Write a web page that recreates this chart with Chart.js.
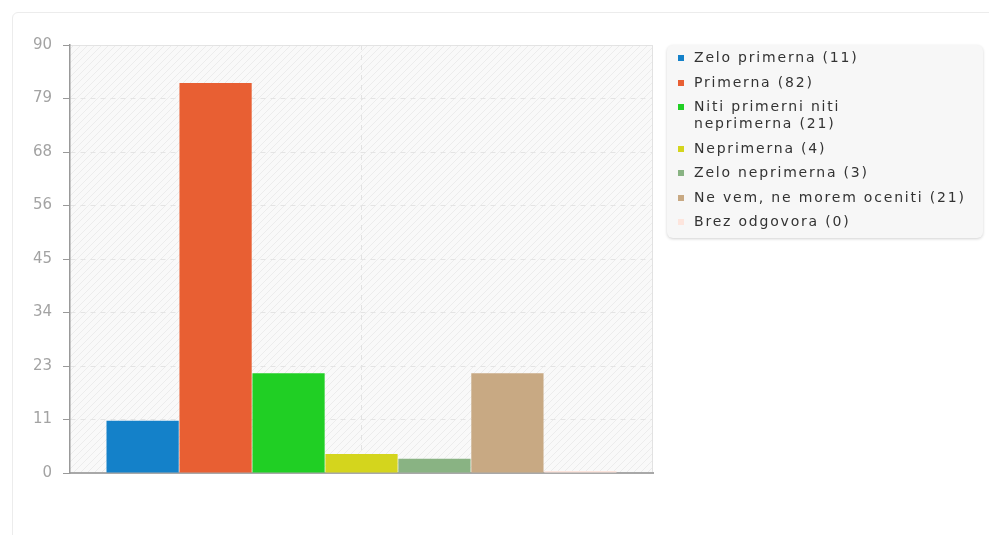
<!DOCTYPE html>
<html>
<head>
<meta charset="utf-8">
<script src="https://cdn.jsdelivr.net/npm/chart.js@4/dist/chart.umd.min.js"></script>
<style>
  body { margin: 0; background: #fff; font-family: "DejaVu Sans", sans-serif; }
  #card { position: absolute; left: 12px; top: 12px; width: 1000px; height: 560px;
          border: 1px solid #ececec; border-radius: 6px; }
  #wrap { position: absolute; left: 0; top: 0; width: 989px; height: 535px; }
  #legend { position: absolute; left: 667px; top: 45px; width: 316px; height: 193px;
            box-sizing: border-box; padding: 4px 0 0 11px; background: #f7f7f7;
            border-radius: 6px; box-shadow: 0 1px 3px rgba(0,0,0,0.18); }
  .item { position: relative; padding-left: 16px; line-height: 17px; margin-bottom: 7.5px;
          font-size: 14px; letter-spacing: 1.8px; color: #333; }
  .item i { position: absolute; left: 0; top: 6px; width: 6px; height: 6px; }
</style>
</head>
<body>
<div id="card"></div>
<div id="wrap"><canvas id="chart" width="989" height="535"></canvas></div>
<div id="legend"></div>
<script>
// Data
const categories = ['Zelo primerna', 'Primerna', 'Niti primerni niti\nneprimerna', 'Neprimerna',
  'Zelo neprimerna', 'Ne vem, ne morem oceniti', 'Brez odgovora'];
const counts = [11, 82, 21, 4, 3, 21, 0];
const colors = ['#1481c9', '#e85f33', '#20cf24', '#d4d51d', '#89b383', '#c8a983', '#fde5dd'];
const tickLabels = [0, 11, 23, 34, 45, 56, 68, 79, 90];
const yMax = 90;

// Legend (HTML so the long label can wrap)
const legend = document.getElementById('legend');
categories.forEach((c, i) => {
    const div = document.createElement('div');
    div.className = 'item';
    const lines = (c + ' (' + counts[i] + ')').split('\n');
    div.innerHTML = '<i style="background:' + colors[i] + '"></i>' + lines.join('<br>');
    legend.appendChild(div);
});

// hatched plot background
function makePattern() {
    const p = document.createElement('canvas');
    p.width = 7; p.height = 7;
    const c = p.getContext('2d');
    c.fillStyle = '#f9f9f9';
    c.fillRect(0, 0, 7, 7);
    c.strokeStyle = '#ececec';
    c.lineWidth = 1;
    c.beginPath();
    c.moveTo(0, 7); c.lineTo(7, 0);
    c.moveTo(-4, 4); c.lineTo(4, -4);
    c.moveTo(3, 11); c.lineTo(11, 3);
    c.stroke();
    return c.createPattern(p, 'repeat');
}

const areaPlugin = {
    id: 'areaBg',
    beforeDraw(chart) {
        const a = chart.chartArea, ctx = chart.ctx;
        ctx.save();
        ctx.fillStyle = makePattern();
        ctx.fillRect(a.left, a.top, a.right - a.left, a.bottom - a.top);
        ctx.strokeStyle = '#e2e2e2';
        ctx.lineWidth = 1;
        ctx.beginPath();
        ctx.moveTo(a.left, a.top + 0.5);
        ctx.lineTo(a.right - 0.5, a.top + 0.5);
        ctx.lineTo(a.right - 0.5, a.bottom);
        ctx.stroke();
        ctx.restore();
    }
};

const ctx = document.getElementById('chart').getContext('2d');
new Chart(ctx, {
    type: 'bar',
    data: {
        labels: [''],
        datasets: categories.map((c, i) => ({
            label: c,
            data: [counts[i]],
            backgroundColor: colors[i],
            borderWidth: 0,
            minBarLength: 2,
            barPercentage: 0.99,
            categoryPercentage: 0.876
        }))
    },
    options: {
        responsive: false,
        animation: false,
        layout: { padding: { left: 0, top: 45, right: 336, bottom: 62 } },
        plugins: { legend: { display: false }, tooltip: { enabled: false } },
        scales: {
            x: {
                ticks: { display: false },
                grid: { offset: false, color: '#e2e2e2', drawTicks: false },
                border: { color: '#a8a8a8', width: 2, dash: [5, 5] },
                afterFit(s) { s.height = 0; }
            },
            y: {
                min: 0,
                max: yMax,
                afterBuildTicks(s) { s.ticks = tickLabels.map((t, i) => ({ value: i * yMax / (tickLabels.length - 1) })); },
                ticks: {
                    padding: 11,
                    color: '#a3a3a3',
                    font: { family: 'DejaVu Sans', size: 15 },
                    callback: (v, i) => tickLabels[i]
                },
                grid: { color: (c) => c.index === 0 ? 'rgba(0,0,0,0)' : '#e4e4e4', tickLength: 7, tickColor: '#999', lineWidth: 1 },
                border: { color: '#999', width: 1.5, dash: [5, 5] },
                afterFit(s) { s.width = 70; }
            }
        }
    },
    plugins: [areaPlugin]
});
</script>
</body>
</html>
